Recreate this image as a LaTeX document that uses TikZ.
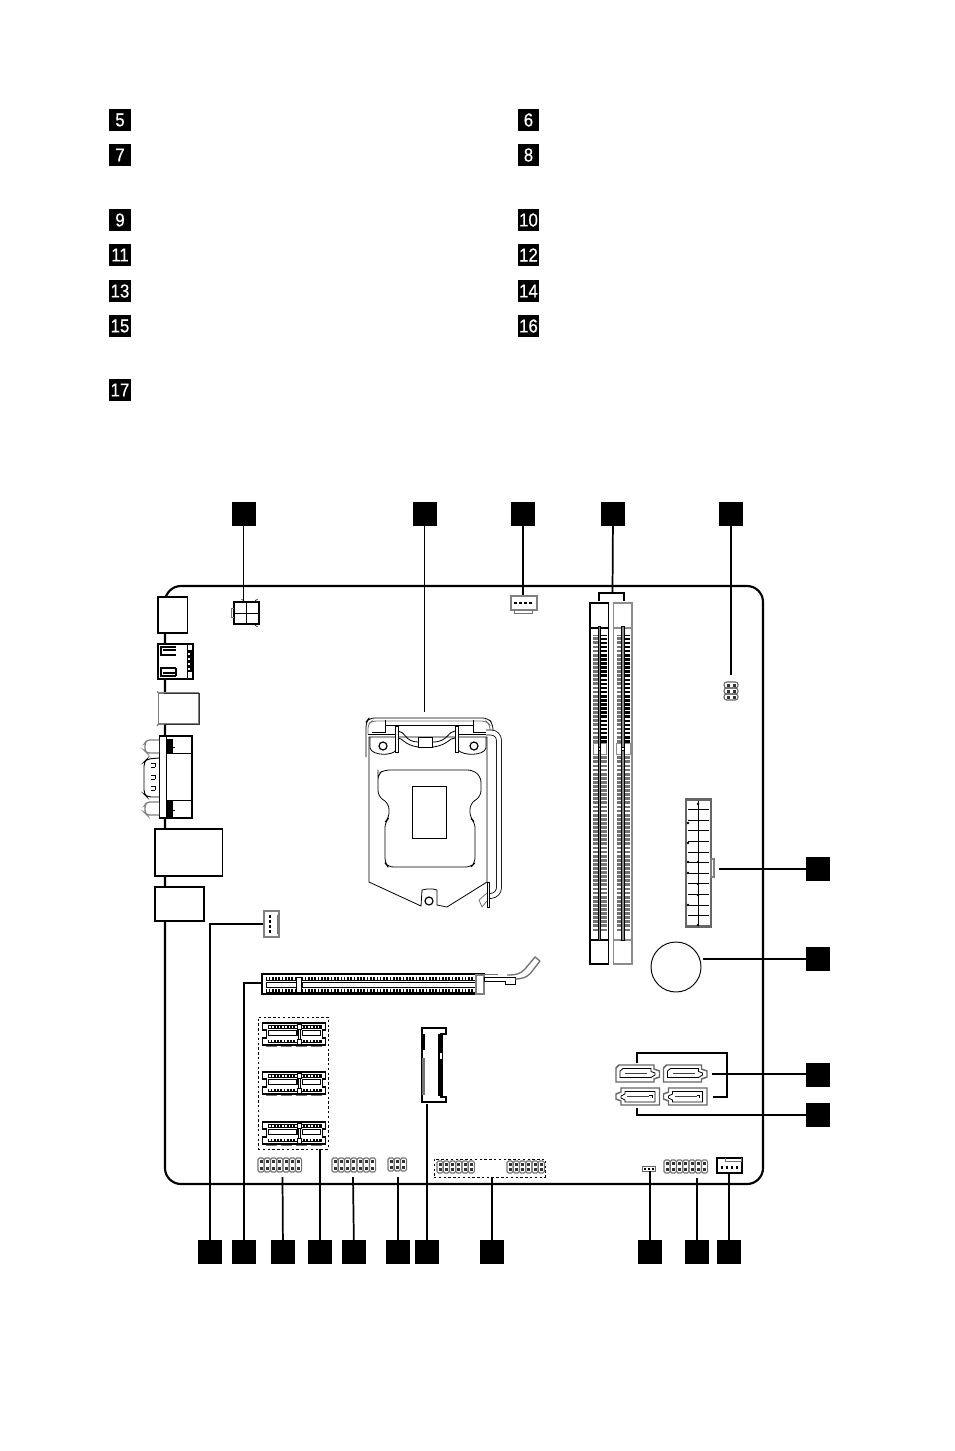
\documentclass[tikz,border=0pt]{standalone}
\usepackage{fontspec}
\setmainfont{Liberation Sans}[FakeStretch=0.9,FakeBold=0.5]
\usetikzlibrary{calc}

\tikzset{
  numbox/.style={fill=black,text=white,inner sep=0pt,minimum width=21.5pt*0.75,minimum height=21.5pt*0.75,font=\fontsize{14}{15}\selectfont},
  callout/.style={fill=black,inner sep=0pt,minimum width=24pt*0.75,minimum height=23.5pt*0.75},
  leader/.style={draw=black,line width=1.3pt},
  part/.style={draw=black,fill=white,line width=0.9pt,inner sep=0pt},
  grey part/.style={draw=black!50,fill=white,line width=1pt,inner sep=0pt},
  thin line/.style={draw=black,line width=0.6pt},
  grey line/.style={draw=black!55,line width=0.6pt},
  dot box/.style={draw=black,line width=0.7pt,dash pattern={on 1.8pt off 1.8pt}}
}

% header: left x, top y, columns, height
\newcommand{\pinheader}[4]{
  \foreach \i in {1,...,#3}{
    \draw [draw=black!55,line width=0.85pt,rounded corners=1.1pt] ({#1+(\i-1)*6.25},#2) rectangle ++(6.1,#4);
    \fill [black!80] ({#1+(\i-1)*6.25+1.6},{#2+2.2}) rectangle ++(3,3);
    \fill [black!80] ({#1+(\i-1)*6.25+1.6},{#2+#4-5.2}) rectangle ++(3,3);
  }
}
% short slot: left x, top y
\newcommand{\shortslot}[2]{
  \begin{scope}[shift={(#1,#2)}]
    \draw [thin line,fill=white,line width=0.8pt] (0,0) -- (63,0) -- (63,7) -- (60,7) -- (60,15) -- (63,15) -- (63,22) -- (0,22) -- (0,15) -- (4,15) -- (4,7) -- (0,7) -- cycle;
    \fill [black] (5,2) rectangle (59,5.5);
    \fill [black] (5,16.5) rectangle (59,20);
    \foreach \k in {0,...,15}{
      \fill [white] ({6.5+\k*3.25},2.6) rectangle ++(1.5,2.3);
      \fill [white] ({6.5+\k*3.25},17.1) rectangle ++(1.5,2.3);
    }
    \draw [black,line width=0.9pt,fill=white] (6,7.5) rectangle (34.5,12.5);
    \draw [black,line width=0.9pt,fill=white] (40,7.5) rectangle (58,12.5);
    \draw [thin line,fill=white] (34.5,1) rectangle (39,6);
    \draw [thin line,fill=white] (35.5,6) rectangle (38,16);
    \draw [thin line,fill=white] (34.5,16) rectangle (39,21);
    \foreach \k in {3,18,33,48}{
      \draw [grey line] (\k,23.5) -- ++(11,0);
    }
  \end{scope}
}
% memory slot: left x, colour
\newcommand{\memslot}[2]{
  \begin{scope}[shift={(#1,603)}]
    \draw [draw=#2,line width=1.1pt] (0,0) rectangle (18.5,361);
    \draw [draw=#2,line width=0.8pt] (0,25) -- (18.5,25);
    \draw [draw=#2,line width=0.8pt] (0,337) -- (18.5,337);
    \fill [black!55] (3,32) rectangle (8,140);
    \fill [black!55] (3,151) rectangle (8,328);
    \fill [black!55] (11,151) rectangle (16.5,328);
    \fill [black] (11,32) rectangle (16.5,140);
    \foreach \k in {0,...,25}{
      \fill [white] (3,{33+\k*4.1}) rectangle (8,{34.3+\k*4.1});
      \fill [white] (11,{33+\k*4.1}) rectangle (16.5,{34.5+\k*4.1});
    }
    \foreach \k in {0,...,42}{
      \fill [white] (3,{152+\k*4.1}) rectangle (8,{153.3+\k*4.1});
      \fill [white] (11,{152+\k*4.1}) rectangle (16.5,{153.3+\k*4.1});
    }
    \draw [draw=black!45,line width=0.6pt] (3,140.5) rectangle (16.5,151);
    \draw [draw=black,fill=black!45,line width=0.4pt] (7.9,23) rectangle (10.7,337);
    \draw [draw=black,line width=0.4pt,fill=white] (7.9,144) rectangle (10.7,147);
  \end{scope}
}
% sata: left x, top y
\newcommand{\sataup}[2]{
  \begin{scope}[shift={(#1,#2)}]
    \draw [draw=black!60,line width=1.1pt] (3,0) -- (38,0) -- (38,4) -- (43.5,6) -- (43.5,12) -- (38,14) -- (38,17) -- (0,17) -- (0,3) -- cycle;
    \draw [black,line width=0.6pt] (7,3.5) -- (35,3.5) -- (35,6.5) -- (39,8) -- (39,10) -- (35,12.5) -- (4,12.5) -- (4,6) -- cycle;
    \fill [black!75] (9,7.5) rectangle (31,9);
  \end{scope}
}
\newcommand{\satadown}[2]{
  \begin{scope}[shift={(#1,#2)}]
    \draw [draw=black!60,line width=1.1pt] (5,0) -- (43.5,0) -- (43.5,17) -- (5,17) -- (5,13) -- (0,11) -- (0,6) -- (5,4) -- cycle;
    \draw [black,line width=0.6pt] (9,3.5) -- (39,3.5) -- (39,14) -- (9,14) -- (9,12) -- (5,10) -- (5,8) -- (9,6) -- cycle;
    \fill [black!75] (11,7.5) rectangle (33,9);
    \draw [black,line width=0.5pt] (33,7) -- (36,7) -- (36,10);
  \end{scope}
}

\begin{document}
\begin{tikzpicture}[x=0.75pt,y=0.75pt,yscale=-1,xscale=1]
\useasboundingbox (0,0) rectangle (954,1451);

% number keys
\foreach \num/\row in {5/120,7/155,9/220,11/255,13/291,15/326,17/390}{
  \node (key\num) [numbox] at (120,\row) {\num};
}
\foreach \num/\row in {6/120,8/155,10/220,12/255,14/291,16/326}{
  \node (key\num) [numbox] at (528.5,\row) {\num};
}

% board
\draw [line width=1.6pt,rounded corners=12pt] (165,586) rectangle (763,1184);

% rear panel
\node (audio) [part,minimum width=29.5pt*0.75,minimum height=36pt*0.75] at (172.75,615) {};
\node (hdmi) [part,minimum width=35pt*0.75,minimum height=35pt*0.75] at (175.5,661.5) {};
\draw [thin line] (187,644) -- (187,679);
\fill [black] (188,650) rectangle (193,672);
\foreach \row in {653,658,663,668}{ \fill [white] (188,\row) rectangle ++(1.5,1.5); }
\draw [thin line,line width=0.8pt] (176,655) -- (161,655) -- (161,647) -- (176,647) (163,650) -- (176,650);
\draw [thin line,line width=0.8pt] (176,668) -- (161,668) -- (161,676) -- (176,676) (163,673) -- (176,673) (176,668) -- (176,676);
\node (usb) [grey part,minimum width=40pt*0.75,minimum height=31pt*0.75] at (178.5,708.5) {};
\draw [black!80,line width=0.5pt] (199,693) -- (164,693) (199,693) -- (199,724) -- (164,724);
\draw [black!70,line width=0.5pt] (157,691) -- (158,693) (157,726) -- (158,724);
\node (vga) [part,minimum width=32.5pt*0.75,minimum height=82pt*0.75] at (175.75,777) {};
\draw [thin line] (166,736) -- (166,818);
\draw [thin line] (166,753) -- (192,753) (166,800) -- (192,800);
\fill [black] (167,739) rectangle (173,753);
\fill [black] (167,800) rectangle (173,817);
\draw [thin line] (173,747) -- (175,747) (173,810) -- (175,810);
\draw [grey part,rounded corners=2pt] (159,740) -- (147,740) -- (145,743) -- (145,751) -- (147,753) -- (159,753);
\draw [grey part,rounded corners=2pt] (159,802) -- (147,802) -- (145,805) -- (145,813) -- (147,815) -- (159,815);
\draw [thin line,line width=0.7pt,rounded corners=3pt] (159,758) -- (147,759) -- (144,762) -- (144,794) -- (147,797) -- (159,797);
\foreach \row in {765,777,788}{
  \draw [thin line,line width=0.7pt] (151,\row-2) -- (155,\row-2) (151,\row+2) -- (155,\row+2) (155,\row-2) -- (155,\row+2);
}
\node (lanport) [part,minimum width=67.5pt*0.75,minimum height=47pt*0.75] at (188.75,852.5) {};
\node (usbport) [part,minimum width=49pt*0.75,minimum height=34pt*0.75] at (179.5,904) {};

% power 4 pin
\node (power) [part,line width=1.1pt,minimum width=25pt*0.75,minimum height=22pt*0.75] at (246.5,613) {};
\draw [thin line,line width=0.9pt] (246.5,602) -- (246.5,624) (234,613.5) -- (259,613.5);
\draw [grey line] (234,608) -- (231,608) -- (231,617) -- (234,617);
\draw [thin line,line width=0.5pt] (244,602) arc (0:-90:2.5) (255,624) arc (180:90:2.5) (255,602) arc (180:270:2.5);

% fan headers
\node (cpufan) [grey part,minimum width=26pt*0.75,minimum height=14pt*0.75] at (524,603) {};
\draw [grey line] (514,610) -- (514,613) -- (532,613) -- (532,610);
\foreach \i in {0,...,3}{ \fill [black] ({514+\i*5},601.5) rectangle ++(2.5,2.5); }
\node (sysfan) [grey part,minimum width=15pt*0.75,minimum height=26pt*0.75] at (271.5,924) {};
\draw [grey line] (277,915) -- (279,915) (277,915) -- (277,933) -- (279,933);
\foreach \i in {0,...,3}{ \fill [black] (268.5,{915+\i*5}) rectangle ++(2.5,2.5); }

% cpu socket
\draw [thin line,fill=white] (369,737) -- (369,882) -- (421,906) -- (422,890) -- (427,889) -- (433,889) -- (437,890) -- (437,905) -- (447,907) -- (487,882) -- (487,737) -- cycle;
\draw [thin line,rounded corners=4pt] (378,775) -- (378,774) -- (384,770) -- (473,770) -- (481,777) -- (481,796) -- (470,804) -- (470,818) -- (475,822) -- (475,863) -- (471,867) -- (388,867) -- (385,863) -- (385,822) -- (389,818) -- (389,804) -- (378,796) -- cycle;
\draw [thin line,line width=0.7pt] (412,786) rectangle (446,838);
\draw [thin line,rounded corners=4pt] (366,757) -- (366,722) -- (369,718) -- (488,718) -- (493,724) -- (493,733);
\draw [grey line,rounded corners=3pt] (368,734) -- (368,724) -- (372,721) -- (486,721) -- (490,725) -- (490,734);
\draw [thin line] (368,734) -- (395,734) (458,734) -- (491,734);
\draw [thin line] (385,725) -- (473,725);
\draw [thin line] (385,720) -- (385,732) -- (372,732) (473,720) -- (473,732) -- (487,732);
\draw [thin line] (370,737) -- (370,748) .. controls (372,756) and (393,756) .. (396,750);
\draw [thin line] (486,737) -- (486,748) .. controls (484,756) and (463,756) .. (458,750);
\node (pivotleft) [draw=black,fill=white,circle,line width=0.9pt,inner sep=0pt,minimum size=8pt*0.75] at (383,746) {};
\node (pivotright) [draw=black,fill=white,circle,line width=0.9pt,inner sep=0pt,minimum size=8pt*0.75] at (474,746) {};
\node (pivotfoot) [draw=black,fill=white,circle,line width=0.9pt,inner sep=0pt,minimum size=8pt*0.75] at (429,901) {};
\draw [thin line,fill=white] (395,726) rectangle (398,752) (455,726) rectangle (458,752);
\draw [thin line] (398,731) .. controls (405,731) and (405,742) .. (418,742) (433,742) .. controls (448,742) and (448,731) .. (455,731);
\draw [thin line] (398,738) .. controls (403,738) and (404,745) .. (418,747) (433,747) .. controls (448,745) and (449,738) .. (455,738);
\draw [thin line,fill=white] (418,737) rectangle (432,747);
% socket lever
\draw [line width=4.3pt,black,rounded corners=6pt] (486,732.5) -- (499,732.5) -- (499,895.5) -- (489,896);
\draw [line width=3.1pt,white,rounded corners=6pt] (486,732.5) -- (499,732.5) -- (499,895.5) -- (489,896);
\draw [thin line,fill=white] (487,882) rectangle (489.5,907);
\draw [grey line] (487,893) -- (479,900) -- (482,907) -- (487,901);

% memory slots
\memslot{590}{black}
\memslot{613.5}{black!45}
\coordinate (memleft) at (599,601);
\coordinate (memright) at (624,601);
\coordinate (memjoin) at (612.5,593);

% small header at top right
\begin{scope}[shift={(724,682)}]
  \foreach \row in {0,6,12}{
    \draw [draw=black!60,line width=0.8pt,rounded corners=2pt] (0,\row) rectangle ++(14,6);
    \fill [black!80] (3,\row+1.5) rectangle ++(3,3);
    \fill [black!80] (8.5,\row+1.5) rectangle ++(3,3);
  }
\end{scope}
\coordinate (jumper) at (731,675);

% main power
\node (atx) [draw=black!60,fill=white,line width=1.6pt,inner sep=0pt,minimum width=24.5pt*0.75,minimum height=127pt*0.75] at (698.5,863) {};
\draw [thin line,line width=0.7pt] (698,801) -- (698,925);
\foreach \i in {1,...,11}{ \draw [thin line] (688,{799+\i*10.6}) -- (709,{799+\i*10.6}); }
\foreach \px/\py in {698/804,688/823,688/843,698/862,688/862,688/873,698/884,698/895,688/905,698/925}{
  \fill [black] (\px,\py) circle (1.4);
}
\node (atxlatch) [grey part,minimum width=3pt*0.75,minimum height=18pt*0.75] at (712.5,868) {};

% battery
\node (battery) [draw=black,fill=white,circle,line width=0.7pt,inner sep=0pt,minimum size=50pt*0.75] at (676,967) {};

% pcie x16
\draw [thin line,fill=white,line width=1pt] (262,974) rectangle (484,994);
\draw [black,fill=white,line width=0.9pt] (266.5,982.5) rectangle (297,987.5);
\draw [black,fill=white,line width=0.9pt] (302,982.5) rectangle (476,987.5);
\fill [black] (266,976.5) rectangle (476,980.5);
\fill [black] (266,988.5) rectangle (476,992.5);
\foreach \k in {0,...,63}{
  \fill [white] ({267+\k*3.27},977) rectangle ++(1.6,3);
  \fill [white] ({267+\k*3.27},989) rectangle ++(1.6,3);
}
\draw [thin line,fill=white] (296.5,977) rectangle (301.5,992);
\draw [grey part,line width=0.8pt] (476,975) rectangle (484,994);
\draw [grey line,line width=1.2pt] (480,974.5) -- (498,974.5);
\draw [thin line,fill=white] (484,977) -- (515,977) -- (515,984) -- (505,984) -- (505,981) -- (484,981) -- cycle;
\draw [grey line,line width=1pt] (507,975) .. controls (517,975) and (520,974) .. (525,969) -- (535,957) -- (540,961);
\draw [grey line,line width=1pt] (515,979) .. controls (525,979) and (530,975) .. (533,970) -- (540,961);
\coordinate (pcieleft) at (262,983);

% pcie x1 group
\node (xonegroup) [dot box,inner sep=0pt,minimum width=70pt*0.75,minimum height=132pt*0.75] at (293,1083) {};
\shortslot{262.5}{1023}
\shortslot{262.5}{1072}
\shortslot{262.5}{1122}

% m.2
\draw [thin line,line width=1pt,fill=white] (422,1028) -- (446,1028) -- (446,1034) -- (441,1034) -- (441,1097) -- (446,1097) -- (446,1102) -- (422,1102) -- cycle;
\fill [black] (422,1034) rectangle (425,1050);
\fill [black!55] (421.5,1058) rectangle (425,1095);
\fill [black] (438,1034) rectangle (443,1096);
\fill [white] (439.5,1053) rectangle (441.5,1059);
\coordinate (mtwo) at (427,1104);

% front headers
\pinheader{258}{1158}{7}{14}
\coordinate (hdraudio) at (282.5,1177);
\pinheader{332}{1158}{7}{14}
\coordinate (hdrcom) at (353,1177);
\pinheader{388}{1158}{3}{13}
\coordinate (hdrclear) at (398,1177);
\node (hdrgroup) [dot box,inner sep=0pt,minimum width=111pt*0.75,minimum height=18pt*0.75] at (489.5,1168) {};
\pinheader{437}{1161}{6}{12}
\pinheader{507}{1161}{6}{12}
\pinheader{664}{1160}{7}{13}
\coordinate (hdrusb) at (697,1178);
\node (hdrspk) [draw=black!60,line width=0.7pt,inner sep=0pt,minimum width=13pt*0.75,minimum height=5pt*0.75] at (648.5,1168.5) {};
\foreach \i in {0,1,2}{ \fill [black] ({643.5+\i*4},1167.5) rectangle ++(2.2,2.2); }
\node (auxfan) [part,minimum width=25pt*0.75,minimum height=15pt*0.75] at (729.5,1165.5) {};
\draw [grey line] (725,1158) -- (725,1161) -- (741,1161) -- (741,1158);
\foreach \i in {0,...,3}{ \fill [black] ({720.5+\i*5},1166) rectangle ++(2.5,2.5); }

% sata
\sataup{616}{1065}
\sataup{663.5}{1065}
\satadown{616}{1088}
\satadown{663.5}{1088}
\coordinate (satatop) at (637,1063);
\coordinate (satabot) at (637,1108);
\coordinate (satamid) at (712,1074);
\coordinate (satalow) at (713,1097);

% callouts
\node (top1) [callout] at (243.5,514) {};
\node (top2) [callout] at (424.5,514) {};
\node (top3) [callout] at (523,514) {};
\node (top4) [callout] at (613,514) {};
\node (top5) [callout] at (731,514) {};
\node (side1) [callout] at (818,869) {};
\node (side2) [callout] at (818,959) {};
\node (side3) [callout] at (818,1075) {};
\node (side4) [callout] at (818,1115) {};
\foreach \nm/\cx in {low1/210,low2/244,low3/283,low4/320,low5/354,low6/398,low7/427,low8/492,low9/650,low10/697,low11/729}{
  \node (\nm) [callout] at (\cx,1252) {};
}
\coordinate (cpuend) at (424.5,712);
\coordinate (atxend) at (719,869);
\coordinate (batend) at (703,959);

% leaders
\draw [leader] (top1) -- (top1 |- power.north);
\draw [leader] (top2) -- (cpuend);
\draw [leader] (top3) -- (top3 |- cpufan.north);
\draw [leader] (top4) -- (memjoin);
\draw [leader] (memleft) |- (memjoin) -| (memright);
\draw [leader] (top5) -- (jumper);
\draw [leader] (side1) -- (atxend);
\draw [leader] (side2) -- (batend);
\draw [leader] (side3.west |- satamid) -- (satamid);
\draw [leader] (side4) -| (satabot);
\draw [leader] (satatop) |- (727,1053) |- (satalow);
\draw [leader] (low1) |- (sysfan.west);
\draw [leader] (low2) |- (pcieleft);
\draw [leader] (low3) -- (hdraudio);
\draw [leader] (low4) -- (low4 |- xonegroup.south);
\draw [leader] (low5) -- (hdrcom);
\draw [leader] (low6) -- (hdrclear);
\draw [leader] (low7) -- (mtwo);
\draw [leader] (low8) -- (hdrgroup.south -| low8);
\draw [leader] (low9) -- (hdrspk.south -| low9);
\draw [leader] (low10) -- (hdrusb);
\draw [leader] (low11) -- (auxfan.south -| low11);

\end{tikzpicture}
\end{document}
